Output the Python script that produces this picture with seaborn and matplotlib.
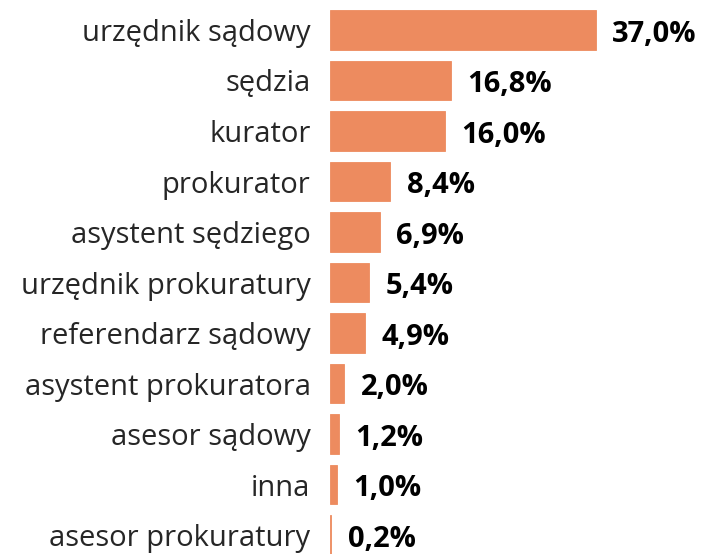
import matplotlib
matplotlib.use("Agg")
import matplotlib.pyplot as plt
import seaborn as sns
import pandas as pd

# Data
categories = [
    "urzędnik sądowy", "sędzia", "kurator", "prokurator", "asystent sędziego",
    "urzędnik prokuratury", "referendarz sądowy", "asystent prokuratora",
    "asesor sądowy", "inna", "asesor prokuratury",
]
shares = [37.0, 16.8, 16.0, 8.4, 6.9, 5.4, 4.9, 2.0, 1.2, 1.0, 0.2]

df = pd.DataFrame({"category": categories, "share": shares})

sns.set_style("white")
plt.rcParams["font.family"] = ["Open Sans", "DejaVu Sans"]

fig = plt.figure(figsize=(7.05, 5.54), dpi=100)
ax = fig.add_axes([330 / 705, 0, 375 / 705, 1])

sns.barplot(data=df, x="share", y="category", color="#ED8B5F",
            saturation=1, width=0.79, edgecolor="#ED8B5F", linewidth=0.6, ax=ax)

ax.set_xlim(0, 52.2)
ax.set_ylim(10.376, -0.594)

for i, v in enumerate(shares):
    ax.text(v + 2.3, i + 0.08, f"{v:.1f}%".replace(".", ","),
            va="center", ha="left", fontsize=21, fontweight="bold", color="black")

ax.set_xlabel("")
ax.set_ylabel("")
ax.set_xticks([])
ax.tick_params(axis="y", length=0, pad=14, labelsize=21)
for s in ax.spines.values():
    s.set_visible(False)

fig.savefig("out.png", dpi=100)
